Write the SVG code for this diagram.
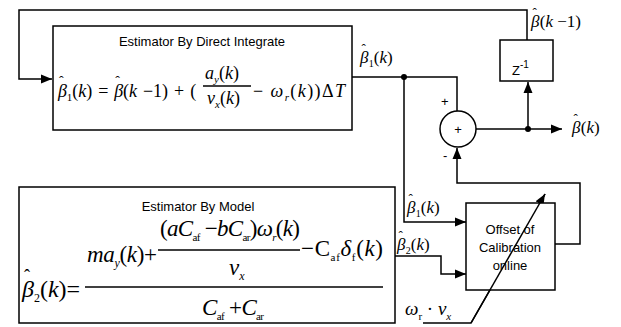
<svg xmlns="http://www.w3.org/2000/svg" width="621" height="327" viewBox="0 0 621 327">
<style>
.bx{fill:#fff;stroke:#000;stroke-width:1.5}
.ln{fill:none;stroke:#000;stroke-width:1.5}
.lbl{font-family:"Liberation Sans",Arial,sans-serif;font-size:13px;fill:#000}
.m{font-family:"Liberation Serif","Times New Roman",serif;fill:#000}
.i{font-style:italic}
.n{font-style:normal}
</style>
<defs>
<marker id="ah" markerUnits="userSpaceOnUse" markerWidth="12" markerHeight="10" refX="11" refY="5" orient="auto">
<path d="M0,0.5 L11,5 L0,9.5 Z" fill="#000"/>
</marker>
</defs>
<rect width="621" height="327" fill="#fff"/>

<g id="connectors">
<path class="ln" d="M527,40 V10 H19 V79 H52" marker-end="url(#ah)"/>
<path class="ln" d="M352,77 H457 V111"/>
<path class="ln" d="M404,77 V222 H466" marker-end="url(#ah)"/>
<path class="ln" d="M395,256 H441 V274 H466" marker-end="url(#ah)"/>
<path class="ln" d="M476,129 H562" marker-end="url(#ah)"/>
<path class="ln" d="M528,129 V82" marker-end="url(#ah)"/>
<path class="ln" d="M555,244 H580 V183 H457 V148" marker-end="url(#ah)"/>
<path class="ln" d="M423,323 H471 L545,194" marker-end="url(#ah)"/>
<circle cx="404" cy="77" r="3" fill="#000"/>
<circle cx="528" cy="129" r="3" fill="#000"/>
<text class="lbl" x="441" y="106">+</text>
<text class="lbl" x="443" y="160">-</text>
<text class="m i" x="360" y="63" font-size="17">β<tspan class="n" font-size="13" dx="-7" dy="-10">ˆ</tspan><tspan class="n" font-size="10" dx="3" dy="14">1</tspan><tspan class="n" dy="-4">(</tspan>k<tspan class="n">)</tspan></text>
<text class="m i" x="531" y="27" font-size="17">β<tspan class="n" font-size="13" dx="-7" dy="-10">ˆ</tspan><tspan class="n" dx="3" dy="10">(</tspan>k<tspan class="n"> −1)</tspan></text>
<text class="m i" x="572" y="133" font-size="17">β<tspan class="n" font-size="13" dx="-7" dy="-10">ˆ</tspan><tspan class="n" dx="3" dy="10">(</tspan>k<tspan class="n">)</tspan></text>
<text class="m i" x="407" y="213" font-size="17">β<tspan class="n" font-size="13" dx="-7" dy="-10">ˆ</tspan><tspan class="n" font-size="10" dx="3" dy="14">1</tspan><tspan class="n" dy="-4">(</tspan>k<tspan class="n">)</tspan></text>
<text class="m i" x="397" y="250" font-size="17">β<tspan class="n" font-size="13" dx="-7" dy="-10">ˆ</tspan><tspan class="n" font-size="10" dx="3" dy="14">2</tspan><tspan class="n" dy="-4">(</tspan>k<tspan class="n">)</tspan></text>
<text class="m i" x="405" y="315" font-size="19">ω<tspan class="n" font-size="11" dy="5">r</tspan><tspan class="n" dy="-5"> · </tspan>v<tspan font-size="11" dy="5">x</tspan></text>
</g>

<g id="estimator-direct">
<rect class="bx" x="53" y="26" width="299" height="104"/>
<text class="lbl" x="202" y="46" text-anchor="middle">Estimator By Direct Integrate</text>
<text class="m i" x="58" y="97" font-size="18" word-spacing="1.5">β<tspan class="n" font-size="14" dx="-8" dy="-11">ˆ</tspan><tspan class="n" font-size="11" dx="3" dy="15">1</tspan><tspan class="n" dy="-4">(</tspan>k<tspan class="n">) = </tspan>β<tspan class="n" font-size="14" dx="-8" dy="-11">ˆ</tspan><tspan class="n" dx="3" dy="11">(</tspan>k<tspan class="n"> −1) + (</tspan></text>
<text class="m i" x="205" y="79" font-size="18">a<tspan font-size="11" dy="4">y</tspan><tspan class="n" dy="-4">(</tspan>k<tspan class="n">)</tspan></text>
<line class="ln" x1="203" y1="86" x2="251" y2="86" stroke-width="1.2"/>
<text class="m i" x="207" y="104" font-size="18">v<tspan font-size="11" dy="4">x</tspan><tspan class="n" dy="-4">(</tspan>k<tspan class="n">)</tspan></text>
<text class="m i" x="253" y="97" font-size="18" textLength="92"><tspan class="n">− </tspan>ω<tspan font-size="11" dy="4">r</tspan><tspan class="n" dy="-4">(</tspan>k<tspan class="n">))Δ</tspan>T</text>
</g>

<g id="estimator-model">
<rect class="bx" x="19" y="187" width="376" height="136"/>
<text class="lbl" x="198" y="211" text-anchor="middle">Estimator By Model</text>
<text class="m i" x="22" y="297" font-size="24">β<tspan class="n" font-size="18" dx="-10" dy="-15">ˆ</tspan><tspan class="n" font-size="12" dx="4" dy="20">2</tspan><tspan class="n" dy="-5">(</tspan>k<tspan class="n">)=</tspan></text>
<line class="ln" x1="85" y1="287" x2="383" y2="287" stroke-width="1.2"/>
<text class="m i" x="87" y="262" font-size="23" textLength="70">ma<tspan font-size="12" dy="5">y</tspan><tspan class="n" dy="-5">(</tspan>k<tspan class="n">)+</tspan></text>
<line class="ln" x1="158" y1="250" x2="300" y2="250" stroke-width="1.2"/>
<text class="m i" x="160" y="236" font-size="23" textLength="140"><tspan class="n">(</tspan>aC<tspan class="n" font-size="11" dy="5">af</tspan><tspan class="n" dy="-5"> −</tspan>bC<tspan class="n" font-size="11" dy="5">ar</tspan><tspan class="n" dy="-5">)</tspan>ω<tspan font-size="11" dy="5">r</tspan><tspan class="n" dy="-5">(</tspan>k<tspan class="n">)</tspan></text>
<text class="m i" x="229" y="275" font-size="23">v<tspan font-size="12" dy="5">x</tspan></text>
<text class="m i" x="301" y="256" font-size="23" textLength="82"><tspan class="n">−C</tspan><tspan class="n" font-size="11" dy="5">af</tspan><tspan dy="-5">δ</tspan><tspan class="n" font-size="11" dy="5">f</tspan><tspan class="n" dy="-5">(</tspan>k<tspan class="n">)</tspan></text>
<text class="m i" x="202" y="315" font-size="23" textLength="62">C<tspan class="n" font-size="11" dy="5">af</tspan><tspan class="n" dy="-5"> +</tspan>C<tspan class="n" font-size="11" dy="5">ar</tspan></text>
</g>

<g id="sum">
<circle cx="458" cy="129" r="18" fill="#fff" stroke="#000" stroke-width="1.5"/>
<text class="lbl" x="458" y="134" text-anchor="middle">+</text>
</g>

<g id="delay">
<rect class="bx" x="500" y="40" width="53" height="41"/>
<text class="lbl" x="512" y="75" font-size="16">Z<tspan font-size="10" dy="-7">-1</tspan></text>
</g>

<g id="offset">
<rect class="bx" x="466" y="203" width="89" height="87"/>
<text class="lbl" x="510" y="234" text-anchor="middle">Offset of</text>
<text class="lbl" x="510" y="252" text-anchor="middle">Calibration</text>
<text class="lbl" x="510" y="270" text-anchor="middle">online</text>
</g>
<path class="ln" d="M471,323 L545,194"/>
</svg>
